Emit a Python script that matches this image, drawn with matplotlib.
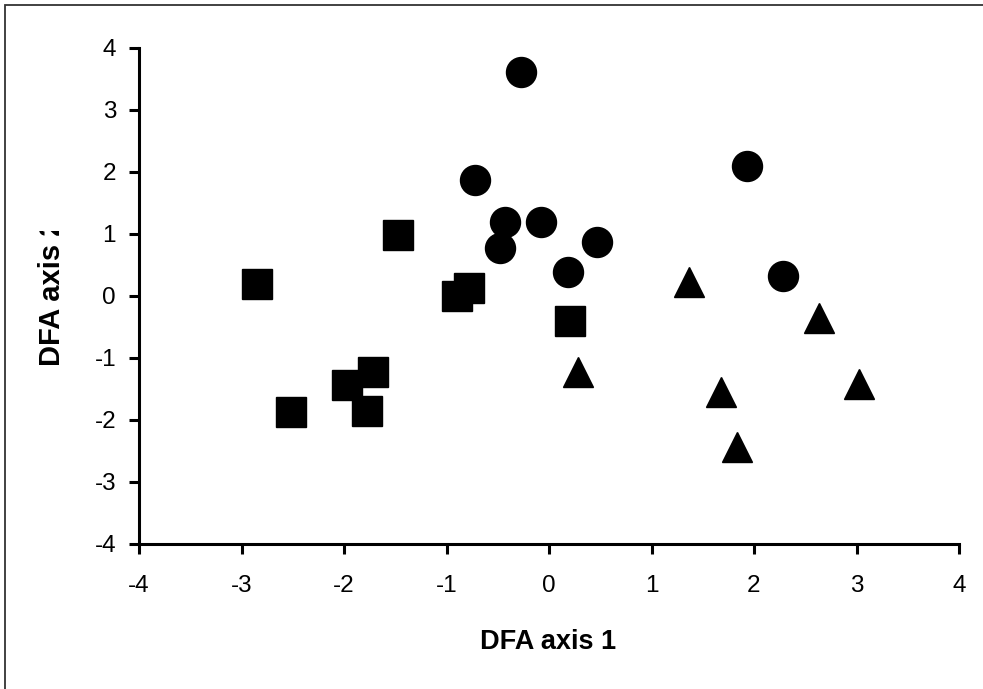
import matplotlib
matplotlib.use("Agg")
import matplotlib.pyplot as plt
from matplotlib.patches import Rectangle
from matplotlib.transforms import Bbox, TransformedBbox

plt.rcParams['font.family'] = ['Liberation Sans', 'DejaVu Sans']

# group 1 (circles)
circ_x = [-0.27, -0.72, -0.43, -0.08, -0.48, 0.47, 0.19, 1.93, 2.28]
circ_y = [3.62, 1.87, 1.20, 1.20, 0.78, 0.87, 0.38, 2.10, 0.33]

# group 2 (squares)
sq_x = [-2.85, -1.47, -0.78, -0.90, 0.20, -1.72, -1.97, -1.78, -2.52]
sq_y = [0.20, 0.98, 0.13, 0.00, -0.40, -1.22, -1.43, -1.85, -1.87]

# group 3 (triangles)
tri_x = [1.37, 0.28, 2.63, 1.68, 3.02, 1.83]
tri_y = [0.23, -1.22, -0.35, -1.55, -1.42, -2.44]

ticks = [-4, -3, -2, -1, 0, 1, 2, 3, 4]

W, H = 983, 689
fig = plt.figure(figsize=(W / 100, H / 100), dpi=100)
ax = fig.add_axes([139 / W, 1 - 544 / H, (959 - 139) / W, (544 - 48) / H])

ms = 21.6
ax.plot(sq_x, sq_y, ls='none', marker='s', ms=ms, color='black', clip_on=False)
ax.plot(circ_x, circ_y, ls='none', marker='o', ms=ms, color='black', clip_on=False)
ax.plot(tri_x, tri_y, ls='none', marker='^', ms=ms, color='black', clip_on=False)

ax.set_xlim(-4, 4)
ax.set_ylim(-4, 4)
ax.set_xticks(ticks)
ax.set_yticks(ticks)
ax.set_xticklabels([str(t) for t in ticks])
ax.set_yticklabels([str(t) for t in ticks])

for s in ['top', 'right']:
    ax.spines[s].set_visible(False)
for s in ['left', 'bottom']:
    ax.spines[s].set_linewidth(2.2)

ax.tick_params(axis='both', direction='out', length=7.5, width=2.2,
               labelsize=17.5, colors='black')
ax.tick_params(axis='x', pad=15)
ax.tick_params(axis='y', pad=9)

fig.text(548 / W, 40 / H, 'DFA axis 1', ha='center', va='baseline',
         fontsize=19.5, fontweight='bold')

# y label is cut off at the top in the original
yl = fig.text(52 / W, (H - 366) / H, 'DFA axis 2', rotation=90,
              ha='center', va='bottom', fontsize=21, fontweight='bold')
yl.set_clip_on(True)
yl.set_clip_box(TransformedBbox(Bbox([[0, 0], [1, (H - 231) / H]]), fig.transFigure))

fig.patches.append(Rectangle((4.5 / W, -0.05), 1.2, (H - 4.5) / H + 0.05,
                             transform=fig.transFigure, fill=False,
                             edgecolor='#333333', lw=1.3))

fig.savefig('out.png', dpi=100)
